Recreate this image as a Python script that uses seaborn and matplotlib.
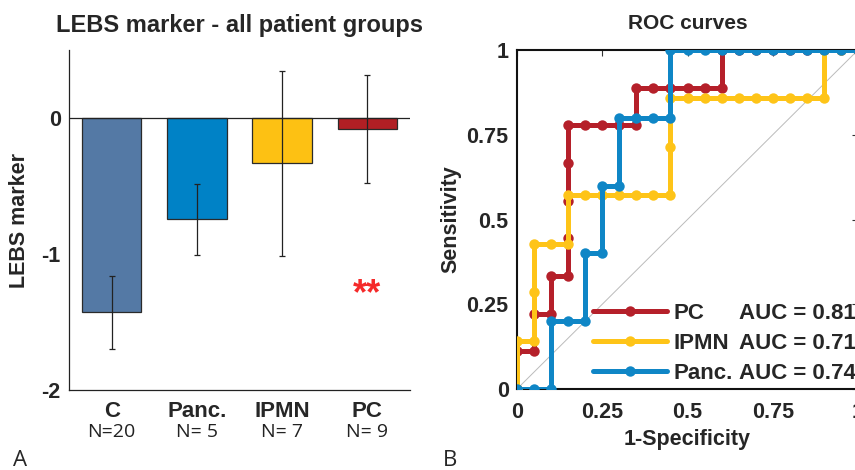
import numpy as np
import pandas as pd
import seaborn as sns
import matplotlib.pyplot as plt

# Panel A: LEBS marker per group (mean +/- error)
groups = ['C', 'Panc.', 'IPMN', 'PC']
n_labels = ['N=20', 'N= 5', 'N= 7', 'N= 9']
means = [-1.43, -0.745, -0.333, -0.081]
errors = [0.27, 0.26, 0.68, 0.40]
bar_colors = ['#5479A5', '#0082C6', '#FDC113', '#B11F24']

# Panel B: ROC curves
pc_fpr = [0, 0, 0.05, 0.05, 0.10, 0.10, 0.15, 0.15, 0.15, 0.15, 0.15, 0.20, 0.25, 0.30, 0.35,
          0.35, 0.40, 0.45, 0.50, 0.55, 0.60, 0.60, 0.65, 0.70, 0.75, 0.80, 0.85, 0.90, 0.95, 1.00]
pc_tpr = [0, 0.111, 0.111, 0.222, 0.222, 0.333, 0.333, 0.444, 0.556, 0.667, 0.778, 0.778, 0.778, 0.778, 0.778,
          0.889, 0.889, 0.889, 0.889, 0.889, 0.889, 1, 1, 1, 1, 1, 1, 1, 1, 1]

ipmn_fpr = [0, 0, 0.05, 0.05, 0.05, 0.10, 0.15, 0.15, 0.20, 0.25, 0.30, 0.35, 0.40, 0.45,
            0.45, 0.45, 0.50, 0.55, 0.60, 0.65, 0.70, 0.75, 0.80, 0.85, 0.90, 0.90, 0.95, 1.00]
ipmn_tpr = [0, 0.143, 0.143, 0.286, 0.429, 0.429, 0.429, 0.571, 0.571, 0.571, 0.571, 0.571, 0.571, 0.571,
            0.714, 0.857, 0.857, 0.857, 0.857, 0.857, 0.857, 0.857, 0.857, 0.857, 0.857, 1, 1, 1]

panc_fpr = [0, 0.05, 0.10, 0.10, 0.15, 0.20, 0.20, 0.25, 0.25, 0.30, 0.30, 0.35, 0.40, 0.45,
            0.45, 0.50, 0.55, 0.60, 0.65, 0.70, 0.75, 0.80, 0.85, 0.90, 0.95, 1.00]
panc_tpr = [0, 0, 0, 0.2, 0.2, 0.2, 0.4, 0.4, 0.6, 0.6, 0.8, 0.8, 0.8, 0.8,
            1, 1, 1, 1, 1, 1, 1, 1, 1, 1, 1, 1]

roc_names = ['PC', 'IPMN', 'Panc.']
roc_auc = [0.81, 0.71, 0.74]
roc_colors = ['#B5202A', '#FEC418', '#0F86C6']
roc_data = [(pc_fpr, pc_tpr), (ipmn_fpr, ipmn_tpr), (panc_fpr, panc_tpr)]

sns.set_style('white')
plt.rcParams['font.family'] = ['Liberation Sans', 'DejaVu Sans']
plt.rcParams['xtick.direction'] = 'in'
plt.rcParams['ytick.direction'] = 'in'

W, H = 855, 470
fig = plt.figure(figsize=(W / 100, H / 100), dpi=100)
bold = {'fontweight': 'bold'}

# ---------- Panel A ----------
ax1 = fig.add_axes([69 / W, (H - 390) / H, (410 - 69) / W, (390 - 50) / H])
df = pd.DataFrame({'group': groups, 'value': means})
sns.barplot(data=df, x='group', y='value', hue='group', palette=bar_colors, order=groups,
            width=0.7, saturation=1, edgecolor='#2a2a2a', linewidth=0.9, legend=False, ax=ax1)
ax1.errorbar(np.arange(len(groups)), means, yerr=errors, fmt='none', ecolor='#222222',
             elinewidth=0.9, capsize=2.5, capthick=0.9)
ax1.axhline(0, color='#222222', lw=0.9)
ax1.set_xlim(-0.5, 3.5)
ax1.set_ylim(-2, 0.5)
ax1.set_yticks([-2, -1, 0])
ax1.set_yticklabels(['-2', '-1', '0'], fontsize=15.5, **bold)
ax1.set_xticks(range(len(groups)))
ax1.set_xticklabels(groups, fontsize=16, **bold)
ax1.tick_params(axis='x', length=4, width=0.8, pad=8, color='#333333')
ax1.tick_params(axis='y', length=0, pad=6)
for s in ['top', 'right']:
    ax1.spines[s].set_visible(False)
for s in ['left', 'bottom']:
    ax1.spines[s].set_color('#222222')
    ax1.spines[s].set_linewidth(0.9)
for i, lab in enumerate(n_labels):
    ax1.annotate(lab, xy=(i, 0), xycoords=('data', 'axes fraction'), xytext=(0, -30.5),
                 textcoords='offset points', ha='center', va='center', fontsize=14,
                 family=['Open Sans', 'DejaVu Sans'], color='#222222')
ax1.set_xlabel('')
ax1.set_ylabel('LEBS marker', fontsize=15.5, labelpad=8, **bold)
ax1.set_title('LEBS marker - all patient groups', fontsize=17, pad=13, **bold)
ax1.text(3, -1.3, '**', color='#F52A2A', fontsize=26, ha='center', va='center', **bold)

# ---------- Panel B ----------
ax2 = fig.add_axes([517 / W, (H - 389) / H, (858 - 517) / W, (389 - 50) / H])
ax2.plot([0, 1], [0, 1], color='#BBBBBB', lw=0.7, zorder=1)
for (fpr, tpr), name, col in zip(roc_data, roc_names, roc_colors):
    sns.lineplot(x=fpr, y=tpr, sort=False, estimator=None, color=col, lw=3.6, marker='o',
                 markersize=7.5, markeredgewidth=0, ax=ax2, label=name, zorder=3)
ax2.set_xlim(0, 1)
ax2.set_ylim(0, 1)
ticks = [0, 0.25, 0.5, 0.75, 1]
tick_labels = ['0', '0.25', '0.5', '0.75', '1']
ax2.set_xticks(ticks)
ax2.set_xticklabels(tick_labels, fontsize=15.5, **bold)
ax2.set_yticks(ticks)
ax2.set_yticklabels(tick_labels, fontsize=15.5, **bold)
ax2.tick_params(length=4, width=0.8, top=True, right=True, color='#333333')
ax2.tick_params(axis='x', pad=9)
ax2.tick_params(axis='y', pad=6)
for s in ax2.spines.values():
    s.set_color('#111111')
    s.set_linewidth(1.5)
ax2.set_xlabel('1-Specificity', fontsize=15.5, labelpad=5, **bold)
ax2.set_ylabel('Sensitivity', fontsize=15.5, labelpad=4, **bold)
ax2.set_title('ROC curves', fontsize=15, pad=15, **bold)

leg_font = {'size': 16, 'weight': 'bold', 'family': ['Liberation Sans', 'DejaVu Sans']}
handles, names = ax2.get_legend_handles_labels()
leg = ax2.legend(handles, names, loc='lower left', bbox_to_anchor=(0.165, -0.045), frameon=False,
                 handlelength=3.3, handletextpad=0.32, labelspacing=0.42, prop=leg_font)

# AUC column, lined up with the legend rows
fig.canvas.draw()
for txt, auc in zip(leg.get_texts(), roc_auc):
    bb = txt.get_window_extent()
    y0 = fig.transFigure.inverted().transform((0, bb.y0))[1]
    fig.text(739 / W, y0, f'AUC = {auc:.2f}', va='bottom', ha='left', fontsize=16,
             fontweight='bold', family=['Liberation Sans', 'DejaVu Sans'])

fig.text(13 / W, 1 - 466 / H, 'A', fontsize=16, family=['Open Sans', 'DejaVu Sans'], va='baseline')
fig.text(443 / W, 1 - 466 / H, 'B', fontsize=16, family=['Open Sans', 'DejaVu Sans'], va='baseline')

fig.savefig('out.png', dpi=100)
